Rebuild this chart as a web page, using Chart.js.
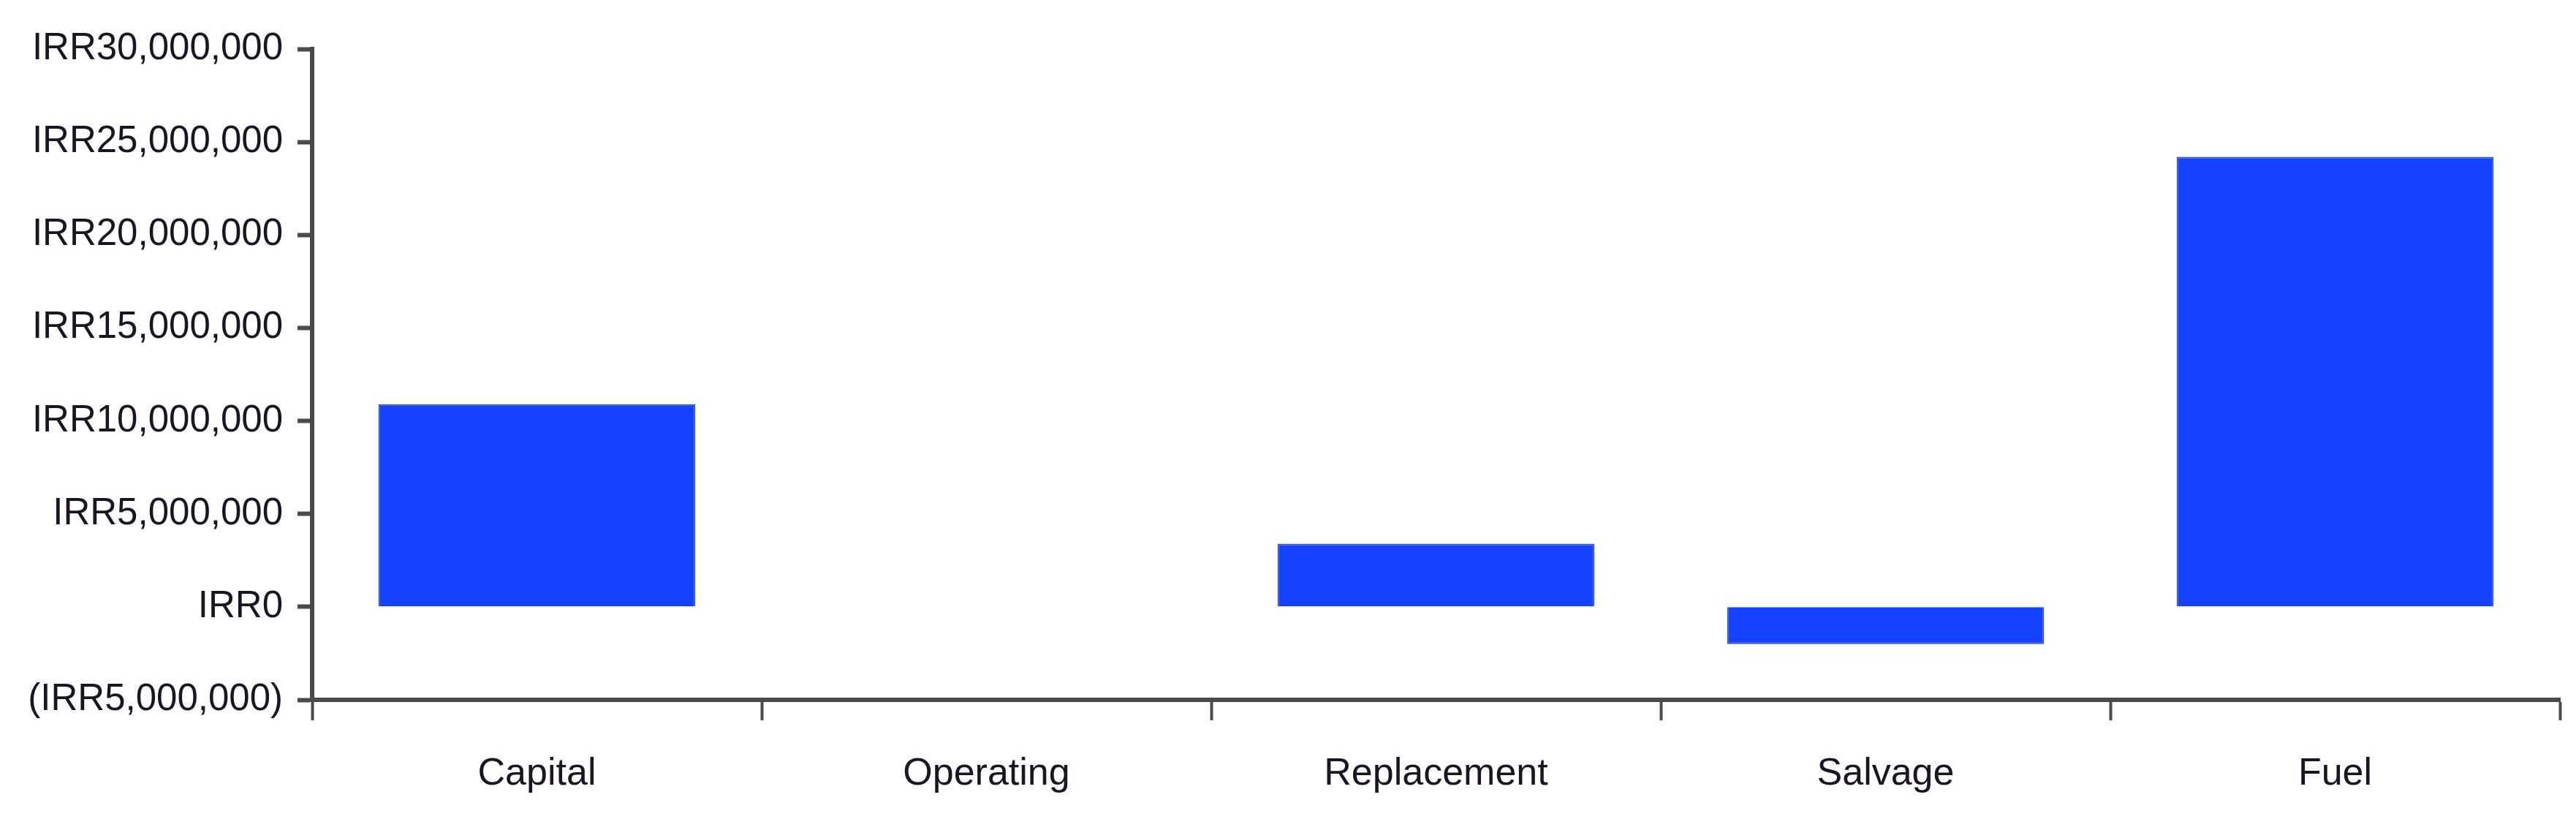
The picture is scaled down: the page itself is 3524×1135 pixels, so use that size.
<!DOCTYPE html>
<html lang="en">
<head>
  <meta charset="UTF-8">
  <title>Cost by type</title>
  <script src="https://cdn.jsdelivr.net/npm/chart.js"></script>
  <style>
    html, body { margin: 0; padding: 0; background: #fff; }
    #wrap { width: 3524px; height: 1135px; }
  </style>
</head>
<body>
  <div id="wrap"><canvas id="costChart"></canvas></div>

  <script>
    const categories = ['Capital', 'Operating', 'Replacement', 'Salvage', 'Fuel'];
    const costValues = [10900000, 0, 3400000, -2000000, 24200000];
    const yMin = -5000000;
    const yMax = 30000000;
    const yStep = 5000000;

    const axisColor = '#4a4a4a';
    const textColor = '#1a1424';
    const fontFamily = "'Liberation Sans', Arial, sans-serif";

    function irr(v) {
      const s = 'IRR' + Math.abs(v).toLocaleString('en-US');
      return v < 0 ? '(' + s + ')' : s;
    }

    new Chart(document.getElementById('costChart').getContext('2d'), {
      type: 'bar',
      data: {
        labels: categories,
        datasets: [{
          label: 'Cost',
          data: costValues,
          backgroundColor: '#1443ff',
          borderColor: '#2c4fe0',
          borderWidth: 2,
          categoryPercentage: 1,
          barPercentage: 0.705
        }]
      },
      options: {
        responsive: true,
        maintainAspectRatio: false,
        animation: false,
        layout: { padding: { top: 67, right: 22, left: 0, bottom: 0 } },
        plugins: {
          legend: { display: false },
          tooltip: { enabled: false }
        },
        scales: {
          x: {
            grid: {
              offset: true,
              drawOnChartArea: false,
              drawTicks: true,
              tickLength: 28,
              tickWidth: 4,
              tickColor: axisColor
            },
            border: { display: true, color: axisColor, width: 6 },
            ticks: {
              color: textColor,
              padding: 42,
              font: { family: fontFamily, size: 52 }
            },
            afterFit: function(scale) { scale.height = 178; }
          },
          y: {
            min: yMin,
            max: yMax,
            grid: {
              drawOnChartArea: false,
              drawTicks: true,
              tickLength: 20,
              tickWidth: 6,
              tickColor: axisColor
            },
            border: { display: true, color: axisColor, width: 6 },
            ticks: {
              stepSize: yStep,
              color: textColor,
              padding: 20,
              font: { family: fontFamily, size: 51 },
              callback: function(v) { return irr(v); }
            },
            afterFit: function(scale) { scale.width = 427; }
          }
        }
      }
    });
  </script>
</body>
</html>
